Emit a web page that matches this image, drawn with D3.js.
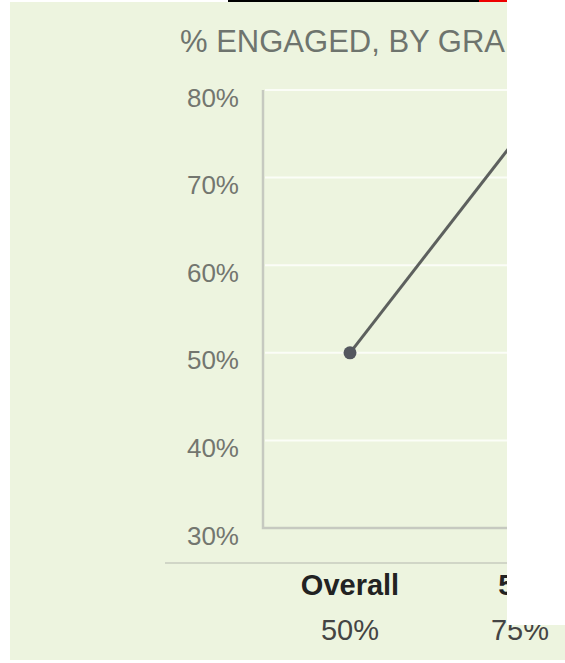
<!DOCTYPE html>
<html>
<head>
<meta charset="utf-8">
<script src="https://cdn.jsdelivr.net/npm/d3@7"></script>
<style>
  body { margin: 0; background: #fff; }
  svg { display: block; font-family: "Liberation Sans", Arial, sans-serif; }
</style>
</head>
<body>
<svg width="565" height="663"></svg>
<script>
// data
var categories = ["Overall", "5th"];
var values = [50, 75];
var yTicks = [30, 40, 50, 60, 70, 80];
var title = "% ENGAGED, BY GRADE";

var svg = d3.select("svg");

// green panel
svg.append("rect")
	.attr("x", 10).attr("y", 2)
	.attr("width", 555).attr("height", 658)
	.attr("fill", "#edf4df");

var x = d3.scalePoint()
	.domain(categories)
	.range([350, 520]);

var y = d3.scaleLinear()
	.domain([30, 80])
	.range([528, 90]);

// title
svg.append("text")
	.attr("x", 180).attr("y", 52)
	.attr("font-size", 31)
	.attr("fill", "#6e746e")
	.text(title);

// white grid lines
svg.append("g").selectAll("line")
	.data(yTicks.slice(1))
	.enter().append("line")
	.attr("x1", 265).attr("x2", 565)
	.attr("y1", d => y(d)).attr("y2", d => y(d))
	.attr("stroke", "#fbfdf7")
	.attr("stroke-width", 2);

// y axis, labels only
var yAxis = d3.axisLeft(y)
	.tickValues(yTicks)
	.tickSize(0)
	.tickPadding(24)
	.tickFormat(d => d + "%");

var gy = svg.append("g")
	.attr("transform", "translate(263,0)")
	.call(yAxis);
gy.select(".domain").remove();
gy.selectAll("text")
	.attr("font-family", "Liberation Sans, Arial, sans-serif")
	.attr("font-size", 26)
	.attr("fill", "#73766f")
	.attr("dy", 16);

// axis frame
svg.append("path")
	.attr("d", d3.line()([[263, y(80)], [263, y(30)], [565, y(30)]]))
	.attr("fill", "none")
	.attr("stroke", "#c6c9c0")
	.attr("stroke-width", 2.5);

// baseline under the chart
svg.append("line")
	.attr("x1", 165).attr("x2", 565)
	.attr("y1", 563).attr("y2", 563)
	.attr("stroke", "#b4b7ae")
	.attr("stroke-width", 1);

// line + points
var pts = categories.map((c, i) => [x(c), y(values[i])]);

svg.append("path")
	.attr("d", d3.line()(pts))
	.attr("fill", "none")
	.attr("stroke", "#5d605e")
	.attr("stroke-width", 3);

svg.append("g").selectAll("circle")
	.data(pts)
	.enter().append("circle")
	.attr("cx", d => d[0]).attr("cy", d => d[1])
	.attr("r", 6.5)
	.attr("fill", "#54575f");

// category and value labels
svg.append("g").selectAll("text")
	.data(categories)
	.enter().append("text")
	.attr("x", d => x(d)).attr("y", 595)
	.attr("text-anchor", "middle")
	.attr("font-size", 29)
	.attr("font-weight", "bold")
	.attr("fill", "#222")
	.text(d => d);

svg.append("g").selectAll("text")
	.data(values)
	.enter().append("text")
	.attr("x", (d, i) => x(categories[i])).attr("y", 640)
	.attr("text-anchor", "middle")
	.attr("font-size", 29)
	.attr("fill", "#444")
	.text(d => d + "%");

// the picture is cut off on the right
svg.append("rect")
	.attr("x", 507).attr("y", 0)
	.attr("width", 58).attr("height", 625)
	.attr("fill", "#fff");

// strip of header above the panel
svg.append("rect")
	.attr("x", 228).attr("y", 0)
	.attr("width", 251).attr("height", 2)
	.attr("fill", "#000");
svg.append("rect")
	.attr("x", 479).attr("y", 0)
	.attr("width", 28).attr("height", 2)
	.attr("fill", "#e00");
</script>
</body>
</html>
